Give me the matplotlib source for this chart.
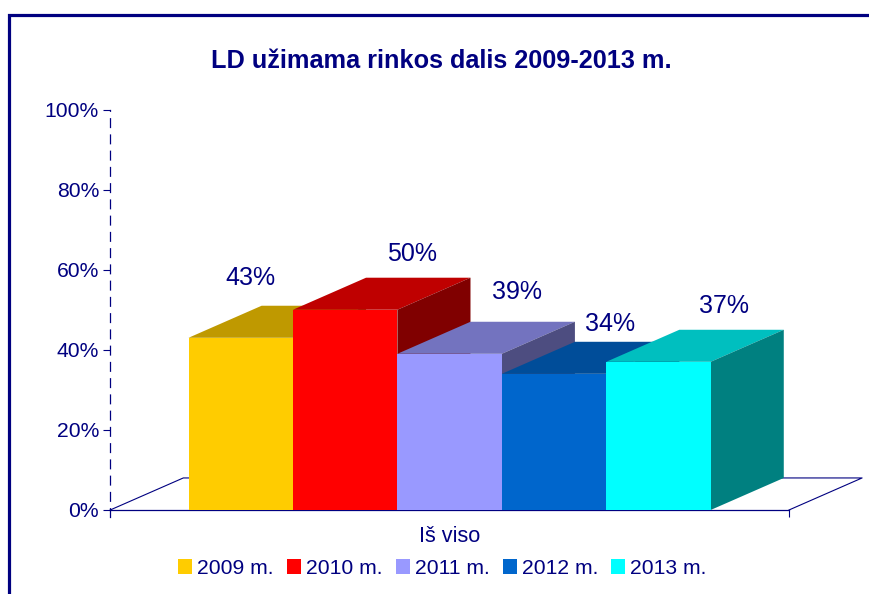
import matplotlib.pyplot as plt
from matplotlib.patches import Polygon, Rectangle

plt.rcParams['font.family'] = ['Liberation Sans', 'DejaVu Sans']

years = ['2009 m.', '2010 m.', '2011 m.', '2012 m.', '2013 m.']
values = [43, 50, 39, 34, 37]
y_ticks = [0, 20, 40, 60, 80, 100]
y_tick_labels = ['0%', '20%', '40%', '60%', '80%', '100%']
title = 'LD užimama rinkos dalis 2009-2013 m.'
category = 'Iš viso'

front_colors = ['#FFCC00', '#FF0000', '#9999FF', '#0066CC', '#00FFFF']
top_colors = ['#BF9900', '#BF0000', '#7373BF', '#004D99', '#00BFBF']
side_colors = ['#806600', '#800000', '#4D4D80', '#003366', '#008080']
# label offsets from the bar's front top centre, in pixels
label_offsets = [(10, 60), (67, 56), (67, 62), (56, 50), (66, 56)]

navy = '#000080'
W, H = 869, 594
depth_x = 0.70
depth_y = 8

fig = plt.figure(figsize=(W / 100, H / 100), dpi=100)
ax = fig.add_axes([110.2 / W, (H - 517) / H, (789 - 110.2) / W, (517 - 109.5) / H])
ax.set_xlim(-0.75, 5.75)
ax.set_ylim(-1.75, 100)
ax.patch.set_visible(False)

for s in ['top', 'right']:
    ax.spines[s].set_visible(False)
ax.spines['left'].set_color(navy)
ax.spines['left'].set_linewidth(0.9)
ax.spines['left'].set_linestyle((0, (7, 6)))
ax.spines['bottom'].set_position(('data', 0))
ax.spines['bottom'].set_color(navy)
ax.spines['bottom'].set_linewidth(0.9)

ax.set_yticks(y_ticks, y_tick_labels, fontsize=15.2, color=navy)
ax.tick_params(axis='y', length=5, width=0.8, color=navy, pad=3)
ax.set_xticks([5.75], [''])
ax.tick_params(axis='x', length=5, width=0.8, color=navy)

# floor
ax.plot([-0.75, -0.75 + depth_x, 5.75 + depth_x, 5.75],
        [0, depth_y, depth_y, 0], color=navy, lw=0.8, clip_on=False, zorder=1)

handles = []
for i, v in enumerate(values):
    z = 3 + i
    bar = ax.bar(i, v, width=1, align='edge', color=front_colors[i], lw=0,
                 label=years[i], zorder=z + 0.2)
    handles.append(bar)
    ax.add_patch(Polygon([(i, v), (i + 1, v), (i + 1 + depth_x, v + depth_y), (i + depth_x, v + depth_y)],
                         closed=True, fc=top_colors[i], ec='none', zorder=z, clip_on=False))
    ax.add_patch(Polygon([(i + 1, 0), (i + 1 + depth_x, depth_y), (i + 1 + depth_x, v + depth_y), (i + 1, v)],
                         closed=True, fc=side_colors[i], ec='none', zorder=z, clip_on=False))
    ax.annotate(f'{v}%', xy=(i + 0.5, v), xytext=label_offsets[i], textcoords='offset pixels',
                ha='center', va='center', fontsize=18, color=navy, zorder=20)

ax.annotate(category, xy=(2.5, 0), xytext=(0, -27), textcoords='offset pixels',
            ha='center', va='center', fontsize=15.6, color=navy)

fig.text(441 / W, 1 - 61 / H, title, ha='center', va='center', fontsize=18.2,
         fontweight='bold', color=navy)

leg = fig.legend(handles=handles, loc='center', bbox_to_anchor=(442.5 / W, 1 - 568.5 / H), ncol=5,
                 frameon=False, fontsize=15.2, labelcolor=navy, borderpad=0, borderaxespad=0,
                 handlelength=0.667, handleheight=0.667, handletextpad=0.24, columnspacing=0.62)

# chart frame, runs off the right and bottom edges
fig.add_artist(Rectangle((9.3 / W, -0.1), 1.0, 1.1 - 14.7 / H, transform=fig.transFigure,
                         fc='none', ec=navy, lw=2.3))

fig.savefig('out.png', dpi=100)
